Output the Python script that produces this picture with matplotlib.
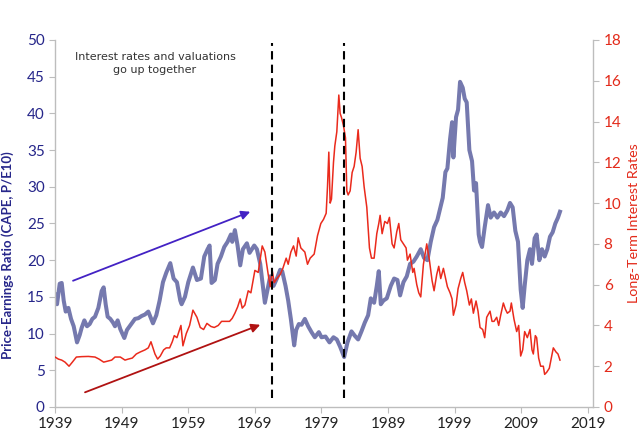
import matplotlib
matplotlib.use("Agg")
import matplotlib.pyplot as plt

# ---- data ----
cape_years = [1939.0, 1939.3, 1939.7, 1940.0, 1940.3, 1940.6, 1941.0, 1941.4, 1941.8, 1942.3, 1942.7,
              1943.0, 1943.4, 1943.8, 1944.2, 1944.6, 1945.0, 1945.5, 1946.0, 1946.3, 1946.6, 1946.9,
              1947.3, 1947.7, 1948.0, 1948.4, 1948.8, 1949.4, 1949.8, 1950.2, 1950.6, 1951.0, 1951.5,
              1952.0, 1952.5, 1953.0, 1953.7, 1954.2, 1954.7, 1955.2, 1955.7, 1956.3, 1956.8, 1957.3,
              1957.8, 1958.0, 1958.5, 1959.0, 1959.7, 1960.3, 1960.9, 1961.4, 1961.9, 1962.2, 1962.5,
              1963.0, 1963.4, 1963.9, 1964.4, 1964.9, 1965.4, 1965.6, 1966.0, 1966.4, 1966.8, 1967.2,
              1967.8, 1968.2, 1968.9, 1969.3, 1969.8, 1970.5, 1970.9, 1971.3, 1971.8, 1972.3, 1972.8,
              1973.1, 1973.6, 1974.0, 1974.4, 1974.9, 1975.2, 1975.6, 1976.0, 1976.5, 1977.0, 1977.5,
              1978.0, 1978.6, 1979.0, 1979.6, 1980.2, 1980.8, 1981.3, 1981.8, 1982.4, 1982.9, 1983.5,
              1984.0, 1984.5, 1985.0, 1985.5, 1986.0, 1986.4, 1986.9, 1987.3, 1987.6, 1987.9, 1988.3,
              1988.8, 1989.4, 1989.9, 1990.4, 1990.8, 1991.3, 1991.8, 1992.3, 1992.8, 1993.3, 1993.9,
              1994.4, 1994.9, 1995.4, 1995.9, 1996.4, 1996.8, 1997.2, 1997.6, 1997.9, 1998.3, 1998.6,
              1998.8, 1999.2, 1999.5, 1999.8, 2000.2, 2000.5, 2000.8, 2001.2, 2001.6, 2001.9, 2002.2,
              2002.6, 2002.8, 2003.1, 2003.5, 2004.0, 2004.4, 2004.9, 2005.4, 2005.9, 2006.4, 2006.9,
              2007.3, 2007.7, 2008.1, 2008.5, 2008.9, 2009.2, 2009.5, 2009.9, 2010.3, 2010.6, 2011.0,
              2011.3, 2011.7, 2012.1, 2012.5, 2012.9, 2013.3, 2013.7, 2014.1, 2014.5, 2014.8]
cape_values = [15.3, 14.0, 16.8, 16.9, 14.5, 13.0, 13.5, 12.0, 11.0, 8.8, 9.8,
               10.8, 11.8, 11.0, 11.3, 12.0, 12.3, 13.5, 15.8, 16.3, 14.0, 12.3,
               12.0, 11.5, 11.0, 11.8, 10.6, 9.4, 10.5, 11.0, 11.5, 12.0, 12.1,
               12.4, 12.6, 13.0, 11.4, 12.5, 14.5, 17.0, 18.3, 19.6, 17.5, 17.0,
               14.5, 14.0, 15.0, 17.0, 19.0, 17.3, 17.5, 20.5, 21.5, 22.0, 16.9,
               17.3, 19.5, 20.5, 21.8, 22.5, 23.5, 22.5, 24.1, 22.0, 19.3, 21.5,
               22.3, 21.0, 22.0, 21.5, 19.5, 14.2, 16.0, 17.8, 16.5, 17.5, 18.7,
               18.5, 16.5, 14.5, 12.0, 8.4, 10.5, 11.3, 11.2, 12.0, 11.0, 10.2,
               9.5, 10.2, 9.5, 9.6, 8.8, 9.5, 9.2, 8.2, 6.8, 8.8, 10.3,
               9.7, 9.2, 10.3, 11.5, 12.5, 14.8, 14.2, 16.5, 18.5, 14.0, 14.5,
               14.8, 16.5, 17.5, 17.3, 15.2, 17.0, 17.8, 19.5, 19.8, 20.5, 21.5,
               20.3, 20.0, 22.5, 24.5, 25.5, 27.0, 28.5, 32.0, 32.5, 36.5, 38.8,
               34.0, 39.5, 40.5, 44.3, 43.5, 42.0, 41.5, 35.0, 33.5, 29.5, 30.5,
               23.5, 22.5, 21.8, 24.5, 27.5, 25.8, 26.5, 25.8, 26.5, 26.0, 26.8,
               27.8, 27.2, 24.0, 22.5, 16.0, 13.5, 16.5, 20.0, 21.5, 19.5, 23.0,
               23.5, 20.0, 21.5, 20.5, 21.5, 23.2, 23.8, 25.0, 25.8, 26.6]

rate_years = [1939.0, 1939.5, 1940.0, 1940.5, 1941.1, 1941.6, 1942.2, 1943.0, 1944.0, 1945.0, 1945.6,
              1946.3, 1946.9, 1947.5, 1948.0, 1948.8, 1949.5, 1950.0, 1950.6, 1951.2, 1951.8, 1952.5,
              1953.0, 1953.4, 1953.6, 1954.0, 1954.4, 1954.8, 1955.3, 1955.7, 1956.2, 1956.6, 1956.9,
              1957.3, 1957.9, 1958.2, 1958.7, 1959.2, 1959.7, 1960.3, 1960.8, 1961.3, 1961.8, 1962.4,
              1962.9, 1963.5, 1964.0, 1964.6, 1965.2, 1965.6, 1966.0, 1966.4, 1966.8, 1967.1, 1967.5,
              1968.0, 1968.4, 1969.0, 1969.5, 1970.1, 1970.5, 1971.0, 1971.3, 1971.6, 1971.9, 1972.3,
              1972.8, 1973.2, 1973.7, 1974.0, 1974.4, 1974.8, 1975.2, 1975.5, 1975.9, 1976.5, 1976.9,
              1977.3, 1977.9, 1978.4, 1978.9, 1979.3, 1979.7, 1979.9, 1980.1, 1980.3, 1980.5, 1980.8,
              1981.0, 1981.3, 1981.6, 1981.8, 1982.0, 1982.3, 1982.6, 1982.8, 1983.0, 1983.3, 1983.6,
              1983.9, 1984.2, 1984.5, 1984.8, 1985.1, 1985.4, 1985.8, 1986.2, 1986.5, 1986.9, 1987.3,
              1987.6, 1987.8, 1988.1, 1988.5, 1988.9, 1989.2, 1989.6, 1989.9, 1990.3, 1990.6, 1990.9,
              1991.3, 1991.7, 1991.9, 1992.3, 1992.7, 1992.9, 1993.3, 1993.6, 1993.9, 1994.3, 1994.8,
              1995.2, 1995.6, 1995.9, 1996.3, 1996.6, 1996.9, 1997.3, 1997.7, 1997.9, 1998.3, 1998.6,
              1998.8, 1999.2, 1999.5, 1999.9, 2000.2, 2000.5, 2000.8, 2001.2, 2001.5, 2001.8, 2002.2,
              2002.5, 2002.8, 2003.2, 2003.5, 2003.8, 2004.3, 2004.6, 2004.9, 2005.3, 2005.6, 2005.9,
              2006.3, 2006.6, 2006.9, 2007.3, 2007.5, 2007.9, 2008.3, 2008.6, 2008.9, 2009.2, 2009.5,
              2009.9, 2010.3, 2010.6, 2010.8, 2011.1, 2011.3, 2011.6, 2011.9, 2012.3, 2012.5, 2012.8,
              2013.2, 2013.5, 2013.8, 2014.2, 2014.5, 2014.8]
rate_values = [2.45, 2.35, 2.3, 2.2, 2.0, 2.2, 2.45, 2.47, 2.48, 2.45, 2.35,
               2.2, 2.25, 2.3, 2.45, 2.45, 2.3, 2.35, 2.4, 2.6, 2.7, 2.8,
               2.9, 3.2, 3.0, 2.6, 2.35, 2.5, 2.8, 2.9, 2.9, 3.2, 3.5,
               3.4, 4.0, 3.0, 3.6, 4.0, 4.75, 4.4, 3.9, 3.8, 4.1, 3.95,
               3.9, 4.0, 4.2, 4.2, 4.2, 4.35, 4.6, 4.9, 5.3, 4.85, 5.0,
               5.7, 5.6, 6.7, 6.6, 7.9, 7.6, 6.5, 5.9, 6.7, 6.1, 6.3,
               6.5, 6.8, 7.3, 7.0, 7.6, 7.9, 7.4, 8.3, 7.8, 7.6, 7.0,
               7.3, 7.5, 8.4, 9.0, 9.2, 9.5, 10.8, 12.5, 10.0, 10.2, 12.0,
               12.8, 13.5, 15.3, 14.4, 14.2, 13.8, 13.2, 10.6, 10.4, 10.6, 11.5,
               11.8, 12.5, 13.6, 12.2, 11.8, 10.8, 9.8, 7.8, 7.3, 7.3, 8.5,
               9.0, 9.4, 8.5, 9.1, 9.0, 9.3, 8.0, 7.8, 8.6, 9.0, 8.2,
               8.0, 7.8, 7.2, 7.5, 6.6, 6.8, 6.0, 5.6, 5.4, 7.0, 8.0,
               7.2, 6.2, 5.7, 6.5, 6.9, 6.3, 6.8, 6.2, 5.9, 5.6, 5.3,
               4.5, 5.0, 5.8, 6.3, 6.6, 6.1, 5.7, 5.0, 5.3, 4.6, 5.2,
               4.7, 3.9, 3.8, 3.4, 4.4, 4.7, 4.2, 4.2, 4.4, 4.0, 4.5,
               5.1, 4.8, 4.6, 4.7, 5.1, 4.3, 3.7, 4.0, 2.5, 2.8, 3.7,
               3.4, 3.8, 2.8, 2.6, 3.5, 3.4, 2.4, 2.0, 2.0, 1.6, 1.7,
               1.9, 2.4, 2.9, 2.7, 2.6, 2.3]

x_ticks = [1939, 1949, 1959, 1969, 1979, 1989, 1999, 2009, 2019]
left_ticks = [0, 5, 10, 15, 20, 25, 30, 35, 40, 45, 50]
right_ticks = [0, 2, 4, 6, 8, 10, 12, 14, 16, 18]
event_years = [1971.5, 1982.4]
annotation = "Interest rates and valuations\ngo up together"
left_label = "Price-Earnings Ratio (CAPE, P/E10)"
right_label = "Long-Term Interest Rates"

# ---- styling ----
BLUE_LINE = "#7579ae"
RED_LINE = "#ea2a1c"
LEFT_TXT = "#26268a"
RIGHT_TXT = "#e32a1a"
SPINE = "#bdbdbd"
FONT = "Lato"

fig = plt.figure(figsize=(6.4, 4.3), dpi=100)
ax = fig.add_axes([0.086, 0.0535, 0.841, 0.8535])
ax2 = ax.twinx()

ax.plot(cape_years, cape_values, color=BLUE_LINE, lw=2.9, solid_joinstyle="round", zorder=2)
ax2.plot(rate_years, rate_values, color=RED_LINE, lw=1.1, zorder=2)

ax.set_xlim(1939, 2019.8)
ax.set_ylim(0, 50)
ax2.set_ylim(0, 18)
ax.set_xticks(x_ticks)
ax.set_yticks(left_ticks)
ax2.set_yticks(right_ticks)

for a in (ax, ax2):
    for s in a.spines.values():
        s.set_color(SPINE)
        s.set_linewidth(1.0)
    a.spines["top"].set_visible(False)
ax.spines["right"].set_visible(False)
ax2.spines["left"].set_visible(False)
ax2.spines["bottom"].set_visible(False)

ax.tick_params(axis="y", colors=SPINE, labelcolor=LEFT_TXT, labelsize=11, length=4, direction="out")
ax.tick_params(axis="x", colors=SPINE, labelcolor="#222222", labelsize=11, length=4, direction="out")
ax2.tick_params(axis="y", colors=SPINE, labelcolor=RIGHT_TXT, labelsize=11, length=4, direction="out")
for lab in ax.get_xticklabels() + ax.get_yticklabels() + ax2.get_yticklabels():
    lab.set_fontfamily(FONT)

ax.set_ylabel(left_label, color=LEFT_TXT, fontsize=9.5, fontweight="bold", family=FONT)
ax.yaxis.set_label_coords(-0.077, 0.415)
ax2.set_ylabel(right_label, color=RIGHT_TXT, fontsize=10.3, family=FONT)
ax2.yaxis.set_label_coords(1.064, 0.50)

# dashed event lines
for yr in event_years:
    ax2.axvline(yr, ymin=0.024, ymax=0.992, color="black", lw=1.5, ls=(0, (4, 2.5)), zorder=5)

# arrows
ax2.annotate("", xy=(1968.3, 26.6), xytext=(1941.7, 17.2), xycoords=ax.transData,
             textcoords=ax.transData,
             arrowprops=dict(arrowstyle="-|>", color="#4322c4", lw=1.3, mutation_scale=13,
                             shrinkA=0, shrinkB=0), zorder=6)
ax2.annotate("", xy=(1969.8, 11.2), xytext=(1943.5, 2.0), xycoords=ax.transData,
             textcoords=ax.transData,
             arrowprops=dict(arrowstyle="-|>", color="#b01212", lw=1.3, mutation_scale=13,
                             shrinkA=0, shrinkB=0), zorder=6)

ax.text(1954.0, 46.8, annotation, ha="center", va="center", multialignment="center",
        fontsize=8, color="#333333", family="DejaVu Sans", linespacing=1.3)

fig.savefig("out.png", dpi=100)
